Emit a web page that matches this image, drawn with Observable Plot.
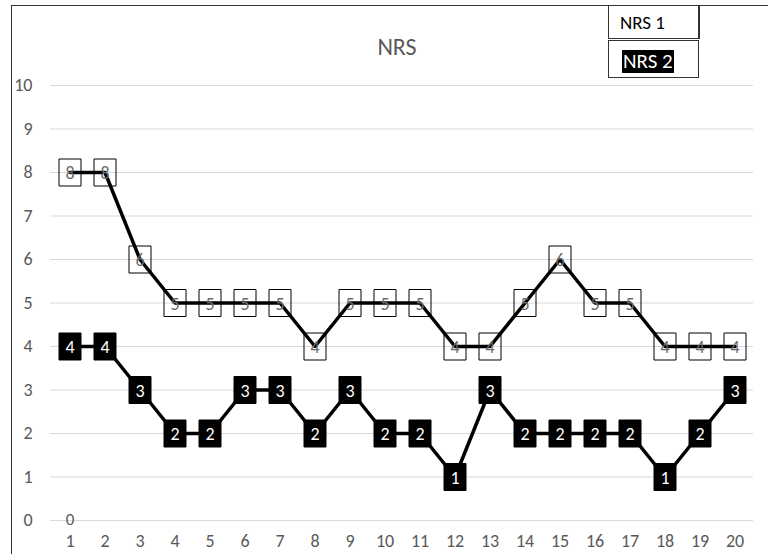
<!DOCTYPE html>
<html>
<head>
<meta charset="utf-8">
<script src="https://cdn.jsdelivr.net/npm/d3@7"></script>
<script src="https://cdn.jsdelivr.net/npm/@observablehq/plot@0.6"></script>
<style>
  body { margin: 0; background: #fff; font-family: Carlito, "Open Sans", sans-serif; }
  #wrap { position: relative; width: 768px; height: 554px; overflow: hidden; }
  #frame { position: absolute; left: 11px; top: 5px; right: -5px; bottom: -5px; border-left: 1.5px solid #333; border-top: 1.5px solid #333; }
  #title { position: absolute; left: 0; width: 794px; top: 32px; text-align: center; font-size: 24px; color: #595959; }
  .leg { position: absolute; left: 608px; width: 89px; border: 1px solid #333; background: #fff; }
  #leg1 { top: 5px; height: 32px; border-right-width: 2px; }
  #leg2 { top: 40px; height: 36px; }
  #leg1 span { position: absolute; left: 11px; top: 5px; font-size: 19px; color: #000; }
  #leg2 span { position: absolute; left: 13px; top: 9px; font-size: 21px; color: #fff; background: #000; padding: 0 1px; line-height: 23px; }
</style>
</head>
<body>
<div id="wrap">
  <div id="chart"></div>
  <div id="frame"></div>
  <div id="title">NRS</div>
  <div class="leg" id="leg1"><span>NRS 1</span></div>
  <div class="leg" id="leg2"><span>NRS 2</span></div>
</div>
<script>
const days = [1,2,3,4,5,6,7,8,9,10,11,12,13,14,15,16,17,18,19,20];
const nrs1 = [8,8,6,5,5,5,5,4,5,5,5,4,4,5,6,5,5,4,4,4];
const nrs2 = [4,4,3,2,2,3,3,2,3,2,2,1,3,2,2,2,2,1,2,3];
const yTicks = [0,1,2,3,4,5,6,7,8,9,10];
const zeroLabel = [{day: 1, value: 0}];

const s1 = days.map((d, i) => ({day: d, value: nrs1[i]}));
const s2 = days.map((d, i) => ({day: d, value: nrs2[i]}));

const box = {
  draw(ctx) {
    ctx.moveTo(-11, -13.5);
    ctx.lineTo(11, -13.5);
    ctx.lineTo(11, 13.5);
    ctx.lineTo(-11, 13.5);
    ctx.closePath();
  }
};

const font = 'Carlito, "Open Sans", sans-serif';

const chart = Plot.plot({
  width: 768,
  height: 554,
  marginLeft: 50,
  marginRight: 15,
  marginTop: 85,
  marginBottom: 34,
  style: {fontFamily: font, background: "transparent"},
  x: {type: "band", domain: days, padding: 0},
  y: {domain: [0, 10]},
  marks: [
    Plot.ruleY(yTicks, {stroke: "#d9d9d9", strokeWidth: 1}),
    Plot.axisY(yTicks, {tickSize: 0, tickPadding: 18, fill: "#595959", fontSize: 18, label: null}),
    Plot.axisX(days, {tickSize: 0, tickPadding: 14, fill: "#595959", fontSize: 18, label: null}),
    Plot.text(zeroLabel, {x: "day", y: "value", text: d => String(d.value), fill: "#595959", fontSize: 17, dy: -1}),
    Plot.line(s1, {x: "day", y: "value", stroke: "#000", strokeWidth: 3.5}),
    Plot.dot(s1, {x: "day", y: "value", symbol: box, fill: "none", stroke: "#000", strokeWidth: 1}),
    Plot.text(s1, {x: "day", y: "value", text: d => String(d.value), fill: "#6b6b6b", fontSize: 18, dy: 1}),
    Plot.line(s2, {x: "day", y: "value", stroke: "#000", strokeWidth: 3.5}),
    Plot.dot(s2, {x: "day", y: "value", symbol: box, fill: "#000", stroke: "#000", strokeWidth: 1}),
    Plot.text(s2, {x: "day", y: "value", text: d => String(d.value), fill: "#fff", fontSize: 18, dy: 1})
  ]
});
document.getElementById("chart").appendChild(chart);
</script>
</body>
</html>
